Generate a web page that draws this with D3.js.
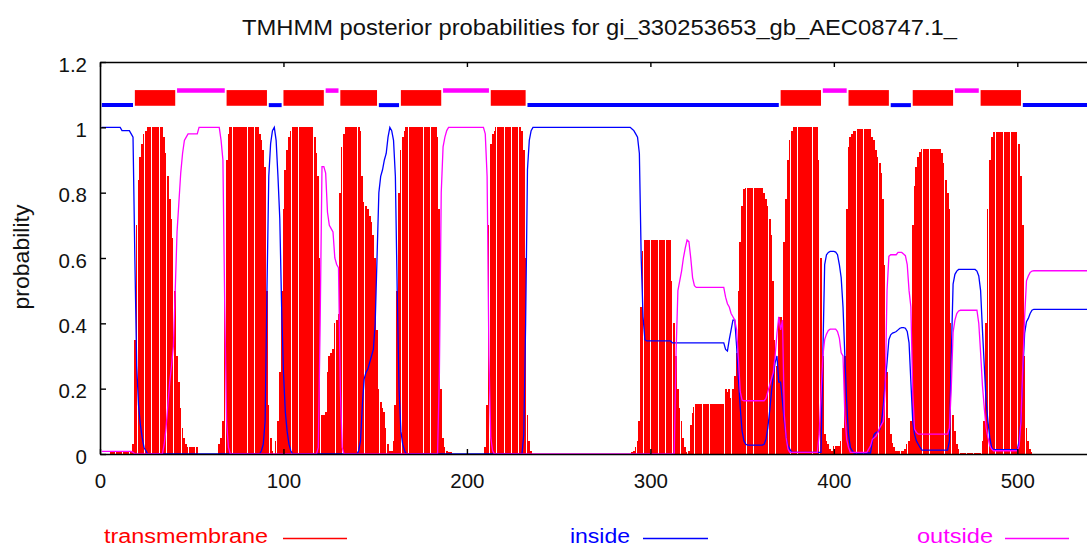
<!DOCTYPE html>
<html><head><meta charset="utf-8">
<script src="https://cdn.jsdelivr.net/npm/d3@7"></script>
<style>html,body{margin:0;padding:0;background:#fff;overflow:hidden}</style>
</head><body>
<svg id="chart" width="1087" height="546"></svg>
<script>
// ---------------- data ----------------
const SEQ_LEN = 538;
const titleText = "TMHMM posterior probabilities for gi_330253653_gb_AEC08747.1_";
const yLabelText = "probability";
const xTicks = [0, 100, 200, 300, 400, 500];
const yTicks = [0, 0.2, 0.4, 0.6, 0.8, 1, 1.2];
const seriesNames = ["transmembrane", "inside", "outside"];
const seriesColors = ["#ff0000", "#0000ff", "#ff00ff"];

// posterior probabilities, as [first residue, value] runs (value holds until next run)
const tmSteps = [[1,0],[6,0.01],[18,0.03],[19,0.35],[20,0.7],[21,0.84],[22,0.91],[23,0.95],[24,0.98],[25,0.99],[26,1],[35,0.97],[36,0.92],[37,0.85],[38,0.78],[39,0.72],[40,0.66],[41,0.5],[42,0.3],[43,0.22],[44,0.14],[45,0.08],[46,0.05],[47,0.03],[48,0.02],[54,0],[65,0.03],[66,0.05],[67,0.1],[68,0.55],[69,0.9],[70,0.98],[71,1],[87,0.98],[88,0.96],[89,0.93],[90,0.88],[91,0.5],[92,0.15],[93,0.05],[94,0.01],[95,0],[96,0.04],[97,0.1],[98,0.25],[99,0.5],[100,0.75],[101,0.87],[102,0.93],[103,0.97],[104,0.99],[105,1],[117,0.97],[118,0.92],[119,0.85],[120,0.6],[121,0.12],[123,0.13],[124,0.25],[125,0.3],[126,0.31],[127,0.32],[128,0.4],[129,0.41],[130,0.43],[131,0.8],[132,0.94],[133,0.98],[134,1],[142,0.99],[143,0.85],[144,0.77],[145,0.76],[146,0.75],[147,0.73],[148,0.71],[149,0.67],[150,0.6],[151,0.38],[152,0.2],[153,0.16],[154,0.14],[155,0.13],[156,0.08],[157,0.03],[158,0.01],[160,0.04],[161,0.15],[162,0.5],[163,0.8],[164,0.93],[165,0.97],[166,0.99],[167,1],[184,0.97],[185,0.75],[186,0.2],[187,0.05],[188,0.02],[189,0.01],[190,0.005],[193,0],[210,0.02],[211,0.15],[212,0.7],[213,0.95],[214,0.98],[215,0.99],[216,1],[230,0.99],[231,0.93],[232,0.6],[233,0.12],[234,0.04],[235,0.01],[236,0],[290,0.005],[291,0.01],[292,0.02],[293,0.04],[294,0.1],[295,0.45],[296,0.62],[297,0.655],[312,0.53],[313,0.4],[314,0.3],[315,0.2],[316,0.14],[317,0.1],[318,0.05],[319,0.02],[320,0.005],[321,0.01],[322,0.09],[323,0.125],[324,0.145],[325,0.153],[341,0.2],[342,0.19],[343,0.2],[344,0.17],[345,0.2],[346,0.24],[347,0.31],[348,0.5],[349,0.65],[350,0.76],[351,0.81],[352,0.815],[362,0.8],[363,0.78],[364,0.76],[365,0.72],[366,0.67],[367,0.53],[368,0.35],[369,0.27],[370,0.42],[372,0.38],[373,0.65],[374,0.78],[375,0.9],[376,0.96],[377,0.99],[378,1],[392,0.9],[393,0.6],[394,0.3],[395,0.06],[396,0.04],[397,0.03],[398,0.015],[399,0.01],[400,0.025],[404,0.04],[405,0.08],[406,0.3],[407,0.75],[408,0.94],[409,0.97],[410,0.98],[411,0.99],[413,0.996],[421,0.97],[422,0.96],[423,0.93],[424,0.91],[425,0.89],[426,0.86],[427,0.78],[428,0.58],[429,0.25],[430,0.11],[431,0.06],[432,0.035],[433,0.02],[434,0.01],[439,0.015],[440,0.03],[441,0.04],[442,0.1],[443,0.7],[444,0.82],[445,0.88],[446,0.91],[447,0.925],[448,0.933],[459,0.92],[460,0.89],[461,0.84],[462,0.8],[463,0.75],[464,0.4],[465,0.12],[466,0.07],[467,0.03],[468,0.015],[469,0.003],[481,0.04],[482,0.1],[483,0.4],[484,0.75],[485,0.9],[486,0.97],[487,0.985],[501,0.95],[502,0.85],[503,0.7],[504,0.3],[505,0.08],[506,0.04],[507,0.015],[508,0.005],[509,0]];

const insideSteps = [[1,1],[12,0.99],[17,0.98],[18,0.97],[19,0.6],[20,0.27],[21,0.15],[22,0.09],[23,0.05],[24,0.02],[25,0.01],[26,0],[88,0.01],[89,0.03],[90,0.1],[91,0.5],[92,0.85],[93,0.95],[94,0.99],[95,1],[96,0.96],[97,0.85],[98,0.72],[99,0.45],[100,0.25],[101,0.13],[102,0.07],[103,0.03],[104,0.01],[105,0],[141,0.01],[142,0.04],[143,0.15],[144,0.23],[145,0.25],[146,0.26],[147,0.28],[148,0.3],[149,0.32],[150,0.4],[151,0.6],[152,0.8],[153,0.85],[154,0.87],[155,0.9],[156,0.92],[157,0.97],[158,1],[159,0.99],[160,0.96],[161,0.85],[162,0.5],[163,0.2],[164,0.07],[165,0.03],[166,0.01],[167,0],[231,0.06],[232,0.4],[233,0.87],[234,0.96],[235,0.99],[236,1],[290,0.995],[291,0.99],[292,0.98],[293,0.97],[294,0.92],[295,0.6],[296,0.42],[297,0.35],[298,0.346],[312,0.34],[341,0.32],[342,0.315],[343,0.35],[344,0.38],[345,0.41],[347,0.33],[348,0.23],[349,0.14],[350,0.07],[351,0.04],[352,0.03],[353,0.027],[362,0.03],[363,0.045],[364,0.08],[365,0.13],[366,0.19],[367,0.24],[368,0.28],[369,0.3],[370,0.22],[372,0.16],[373,0.1],[374,0.05],[375,0.025],[376,0.015],[377,0.005],[394,0.3],[395,0.58],[396,0.61],[397,0.617],[398,0.62],[401,0.618],[402,0.61],[403,0.58],[404,0.54],[405,0.45],[406,0.3],[407,0.16],[408,0.06],[409,0.02],[410,0.01],[411,0.003],[421,0.04],[422,0.06],[423,0.066],[424,0.068],[425,0.075],[426,0.1],[427,0.15],[428,0.22],[429,0.28],[430,0.35],[431,0.365],[432,0.37],[433,0.372],[434,0.375],[435,0.38],[436,0.385],[437,0.387],[439,0.385],[440,0.375],[441,0.34],[442,0.22],[443,0.1],[444,0.06],[445,0.04],[446,0.03],[447,0.02],[448,0.012],[463,0.04],[464,0.3],[465,0.52],[466,0.55],[467,0.56],[468,0.565],[478,0.56],[479,0.545],[480,0.5],[481,0.38],[482,0.27],[483,0.16],[484,0.1],[485,0.05],[486,0.02],[487,0.013],[501,0.04],[502,0.1],[503,0.25],[504,0.37],[505,0.405],[506,0.415],[507,0.43],[508,0.44],[509,0.443]];

const outsideSteps = [[1,0.008],[18,0.005],[19,0],[35,0.03],[36,0.08],[37,0.15],[38,0.22],[39,0.27],[40,0.33],[41,0.5],[42,0.68],[43,0.77],[44,0.86],[45,0.92],[46,0.96],[47,0.97],[48,0.98],[54,1],[66,0.96],[67,0.9],[68,0.45],[69,0.1],[70,0.02],[71,0],[119,0.02],[120,0.4],[121,0.88],[123,0.86],[124,0.74],[125,0.7],[126,0.69],[127,0.68],[128,0.6],[129,0.58],[130,0.57],[131,0.2],[132,0.02],[133,0],[185,0.25],[186,0.8],[187,0.94],[188,0.97],[189,0.99],[190,1],[210,0.98],[211,0.85],[212,0.3],[213,0.05],[214,0.01],[215,0],[314,0.31],[315,0.5],[316,0.53],[317,0.56],[318,0.6],[319,0.63],[320,0.655],[321,0.65],[322,0.6],[323,0.54],[324,0.515],[325,0.51],[341,0.48],[342,0.46],[343,0.45],[344,0.43],[345,0.42],[346,0.41],[347,0.38],[348,0.29],[349,0.19],[350,0.165],[351,0.163],[363,0.17],[364,0.19],[365,0.21],[366,0.23],[367,0.25],[368,0.3],[369,0.37],[370,0.42],[371,0.38],[372,0.41],[373,0.12],[374,0.05],[375,0.015],[376,0.005],[392,0.06],[393,0.18],[394,0.3],[395,0.35],[396,0.367],[397,0.378],[398,0.382],[402,0.375],[403,0.355],[404,0.31],[405,0.3],[406,0.12],[407,0.045],[408,0.02],[409,0.005],[419,0.015],[420,0.025],[421,0.045],[422,0.05],[423,0.055],[424,0.066],[425,0.08],[426,0.09],[427,0.1],[428,0.2],[429,0.5],[430,0.605],[431,0.61],[435,0.617],[438,0.612],[439,0.607],[440,0.58],[441,0.5],[442,0.45],[443,0.19],[444,0.076],[445,0.066],[446,0.061],[463,0.08],[464,0.2],[465,0.372],[466,0.41],[467,0.43],[468,0.438],[469,0.44],[479,0.4],[480,0.31],[481,0.21],[482,0.14],[483,0.08],[484,0.05],[485,0.025],[486,0.015],[487,0.01],[501,0.025],[502,0.1],[503,0.27],[504,0.42],[505,0.53],[506,0.545],[507,0.556],[508,0.56],[509,0.561]];

// predicted topology (residue ranges)
const tmHelices = [[19,41],[69,91],[100,122],[131,151],[164,186],[213,232],[371,393],[408,430],[443,465],[480,502]];
const insideSegments = [[1,18],[92,99],[152,163],[233,370],[431,442],[503,538]];
const outsideSegments = [[42,68],[123,130],[187,212],[394,407],[466,479]];

// ---------------- drawing ----------------
function expandSteps(steps) {
  const out = [];
  for (let i = 0; i < steps.length; i++) {
    const [s, v] = steps[i];
    const e = i + 1 < steps.length ? steps[i + 1][0] - 1 : SEQ_LEN;
    for (let r = s; r <= e; r++) out.push({ r: r, v: v });
  }
  return out;
}
const tmData = expandSteps(tmSteps);
const inData = expandSteps(insideSteps);
const outData = expandSteps(outsideSteps);

const FONT = "'Liberation Sans', Arial, Helvetica, sans-serif";
const svg = d3.select("#chart").style("font-family", FONT);

const x = d3.scaleLinear().domain([0, 540]).range([100, 100 + 540 * 1.8346]);
const y = d3.scaleLinear().domain([0, 1.2]).range([454, 62]);

// impulses (transmembrane): pixel-snapped bars, a thin light seam every 4th residue
svg.append("g").attr("shape-rendering", "crispEdges")
  .selectAll("rect").data(tmData.filter(d => d.v > 0)).join("rect")
  .attr("x", d => Math.round(x(d.r - 0.5)))
  .attr("width", d => Math.max(1, Math.round(x(d.r + 0.5)) - Math.round(x(d.r - 0.5)) - (d.r % 4 === 0 ? 1 : 0)))
  .attr("y", d => y(d.v))
  .attr("height", d => y(0) - y(d.v))
  .attr("fill", seriesColors[0]);

const line = d3.line().x(d => x(d.r)).y(d => y(d.v));
svg.append("path").datum(inData).attr("d", line)
  .attr("fill", "none").attr("stroke", seriesColors[1]).attr("stroke-width", 1.3);
svg.append("path").datum(outData).attr("d", line)
  .attr("fill", "none").attr("stroke", seriesColors[2]).attr("stroke-width", 1.3);

// topology bar
svg.append("g").selectAll("line").data(insideSegments).join("line")
  .attr("x1", d => x(d[0])).attr("x2", d => x(d[1]))
  .attr("y1", y(1.068)).attr("y2", y(1.068))
  .attr("stroke", seriesColors[1]).attr("stroke-width", 4);
svg.append("g").selectAll("line").data(outsideSegments).join("line")
  .attr("x1", d => x(d[0])).attr("x2", d => x(d[1]))
  .attr("y1", y(1.1125)).attr("y2", y(1.1125))
  .attr("stroke", seriesColors[2]).attr("stroke-width", 4.5);
svg.append("g").selectAll("rect").data(tmHelices).join("rect")
  .attr("x", d => x(d[0])).attr("width", d => x(d[1]) - x(d[0]))
  .attr("y", y(1.114)).attr("height", y(1.066) - y(1.114))
  .attr("fill", seriesColors[0]);

// axes
const yAxis = svg.append("g").attr("transform", "translate(100,0)")
  .call(d3.axisLeft(y).tickValues(yTicks).tickFormat(d3.format("~g"))
    .tickSizeInner(-6).tickSizeOuter(0).tickPadding(13));
const xAxis = svg.append("g").attr("transform", "translate(0,454)")
  .call(d3.axisBottom(x).tickValues(xTicks).tickFormat(d3.format("d"))
    .tickSizeInner(-5).tickSizeOuter(0).tickPadding(19));
const topAxis = svg.append("g").attr("transform", "translate(0,62)")
  .call(d3.axisTop(x).tickValues(xTicks).tickFormat("")
    .tickSizeInner(-5).tickSizeOuter(0));
[yAxis, xAxis, topAxis].forEach(g => {
  g.select(".domain").attr("stroke", "#000").attr("stroke-width", 1.6);
  g.selectAll(".tick line").attr("stroke", "#000").attr("stroke-width", 1.4);
  g.selectAll("text").attr("fill", "#111").style("font-size", "20.5px").style("font-family", FONT);
});
yAxis.selectAll("text").attr("dy", "0.45em");

// title
svg.append("text").text(titleText)
  .attr("x", 599.5).attr("y", 34.5).attr("text-anchor", "middle")
  .attr("fill", "#111").style("font-size", "22px")
  .attr("textLength", 715).attr("lengthAdjust", "spacingAndGlyphs");

// y label
svg.append("text").text(yLabelText)
  .attr("transform", "translate(29,257) rotate(-90)")
  .attr("text-anchor", "middle").attr("fill", "#111").style("font-size", "22px")
  .attr("textLength", 105).attr("lengthAdjust", "spacingAndGlyphs");

// legend
const legendLayout = [
  { tx: 104, tw: 164, lx1: 283, lx2: 347 },
  { tx: 570, tw: 60, lx1: 643, lx2: 708 },
  { tx: 917, tw: 76, lx1: 1005, lx2: 1069 }
];
seriesNames.forEach((name, i) => {
  const L = legendLayout[i];
  svg.append("text").text(name)
    .attr("x", L.tx).attr("y", 543).attr("fill", seriesColors[i])
    .style("font-size", "20px")
    .attr("textLength", L.tw).attr("lengthAdjust", "spacingAndGlyphs");
  svg.append("line").attr("x1", L.lx1).attr("x2", L.lx2)
    .attr("y1", 538.5).attr("y2", 538.5)
    .attr("stroke", seriesColors[i]).attr("stroke-width", 1.5);
});
</script>
</body></html>
